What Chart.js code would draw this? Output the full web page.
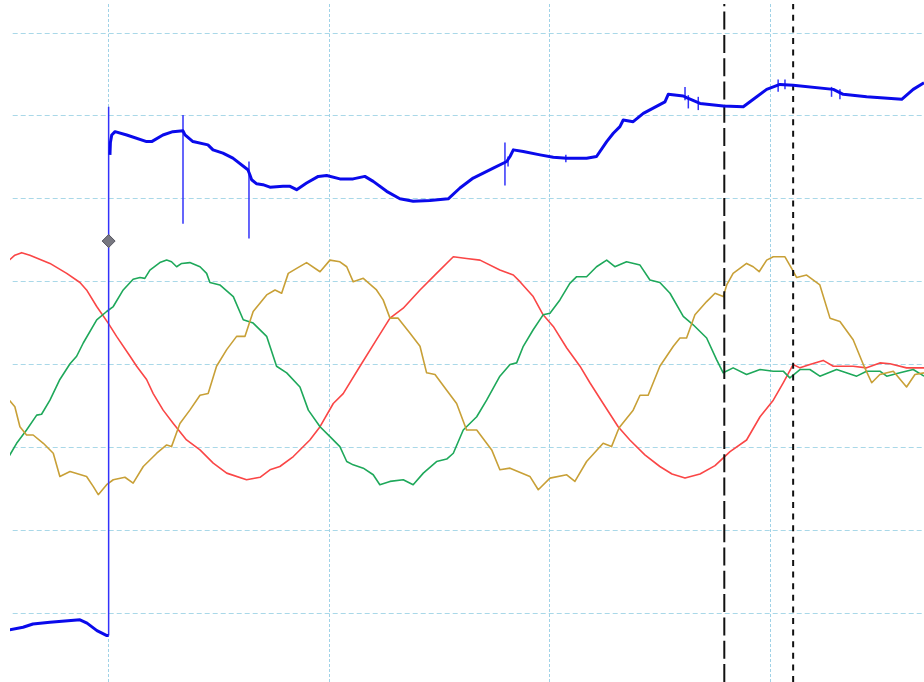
<!DOCTYPE html>
<html>
<head>
<meta charset="utf-8">
<script src="https://cdn.jsdelivr.net/npm/chart.js@4/dist/chart.umd.min.js"></script>
<style>
html,body{margin:0;padding:0;background:#fff;}
#wrap{width:924px;height:682px;position:relative;}
</style>
</head>
<body>
<div id="wrap"><canvas id="c"></canvas></div>
<script>
// time in ms (10 ms / division), amplitude in units of 100 per division
const xTicks = [0, 10, 20, 30];
const yTicks = [-300, -200, -100, 0, 100, 200, 300, 400];
const xMin = -4.47, xMax = 36.95, yMin = -383, yMax = 435;

// blue trace before the step
const bluePre = [[-4.50,-320],[-3.88,-317],[-3.43,-313],[-2.66,-311],[-1.30,-308],[-0.98,-312],[-0.53,-321],[-0.08,-327],[0,-327]];
// blue trace after the step
const bluePost = [[0.06,253],[0.08,268],[0.14,277],[0.29,281],[0.82,277],[1.72,269],[1.95,269],[2.46,277],[2.91,281],[3.37,282],
 [3.46,277],[3.82,269],[4.50,265],[4.73,259],[5.18,255],[5.63,249],[6.31,235],[6.40,229],[6.48,223],[6.71,218],[6.99,217],
 [7.31,214],[7.90,215],[8.22,215],[8.52,211],[8.97,219],[9.50,227],[9.88,228],[10.48,224],[11.08,224],[11.61,227],[11.99,221],
 [12.60,209],[13.20,200],[13.80,197],[14.56,198],[15.39,200],[15.92,213],[16.52,225],[17.43,237],[18.04,245],[18.19,251],
 [18.34,259],[18.79,257],[19.55,253],[20.15,250],[20.76,249],[21.66,249],[22.11,251],[22.57,269],[22.87,279],[23.17,287],
 [23.32,295],[23.77,293],[24.23,303],[25.21,317],[25.36,326],[26.04,324],[26.19,322],[26.80,315],[27.85,312],[28.76,311],
 [29.37,323],[29.82,332],[30.42,338],[31.02,337],[32.84,332],[33.29,326],[34.35,323],[35.94,320],[36.46,332],[36.95,340]];
// glitches on the blue channel: [time, low, high]
const blueSpikes = [[0,-327,311],[3.37,170,301],[6.36,152,245],[17.96,216,268],[18.10,239,251],[20.72,244,253],
 [26.12,319,335],[26.27,309,325],[26.72,307,323],[30.34,329,344],[30.65,332,344],[32.76,323,335],[33.14,320,332]];
const triggerMark = [[0,149]];

const phaseRed = [[-4.50,126],[-4.25,132],[-3.94,135],[-3.57,132],[-2.66,122],[-1.90,110],[-1.30,99],[-1.00,90],[-0.54,70],
 [-0.02,50],[0.36,34],[0.97,10],[1.27,-2],[1.72,-18],[2.02,-35],[2.47,-55],[2.93,-71],[3.53,-91],[4.14,-103],[4.74,-119],
 [5.35,-131],[6.25,-139],[6.86,-136],[7.31,-127],[7.76,-123],[8.37,-111],[9.12,-91],[9.58,-75],[10.18,-47],[10.63,-35],
 [11.39,-2],[12.14,30],[12.75,56],[13.35,68],[14.11,90],[14.86,110],[15.62,130],[16.22,128],[16.83,126],[17.73,114],
 [18.34,108],[18.64,100],[19.24,82],[19.69,60],[20.15,46],[20.76,20],[21.36,-2],[21.81,-22],[22.41,-47],[23.09,-75],
 [23.62,-91],[24.30,-109],[24.98,-123],[25.53,-132],[26.12,-137],[26.80,-132],[27.48,-122],[28.16,-105],[28.91,-91],
 [29.52,-63],[30.12,-43],[30.57,-22],[31.02,0],[31.33,-4],[31.78,0],[32.38,5],[32.84,-2],[33.74,-2],[34.35,-4],
 [34.95,2],[35.41,1],[36.16,-4],[36.95,-4]];
const phaseGreen = [[-4.50,-110],[-4.17,-95],[-3.72,-79],[-3.26,-61],[-3.04,-60],[-2.66,-43],[-2.21,-18],[-1.75,1],[-1.45,10],
 [-1.15,26],[-0.54,54],[-0.09,64],[0.21,70],[0.66,90],[1.11,103],[1.42,105],[1.64,104],[1.87,114],[2.32,123],[2.63,126],
 [2.85,124],[3.08,118],[3.31,122],[3.68,123],[4.14,118],[4.44,110],[4.59,99],[5.04,96],[5.65,82],[6.10,54],[6.55,50],
 [7.16,34],[7.61,-2],[8.07,-10],[8.67,-27],[9.05,-55],[9.58,-75],[10.03,-87],[10.48,-99],[10.79,-117],[11.08,-121],
 [11.54,-125],[11.99,-133],[12.29,-145],[12.75,-141],[13.35,-139],[13.80,-145],[14.26,-131],[14.86,-117],[15.32,-114],
 [15.62,-107],[16.07,-79],[16.68,-63],[17.13,-43],[17.73,-14],[18.19,0],[18.49,2],[18.79,22],[19.24,42],[19.69,60],
 [20.00,62],[20.45,78],[20.90,98],[21.21,106],[21.66,106],[22.11,118],[22.57,126],[22.94,118],[23.47,124],[24.08,120],
 [24.53,102],[24.98,99],[25.44,86],[26.04,58],[26.49,48],[27.10,32],[27.55,6],[27.85,-10],[28.30,-4],[28.91,-12],
 [29.52,-6],[30.12,-8],[30.57,-8],[30.87,-16],[31.33,-6],[31.78,-6],[32.23,-14],[32.99,-6],[33.90,-14],[34.35,-8],
 [34.95,-8],[35.26,-14],[35.86,-10],[36.46,-6],[36.95,-14]];
const phaseGold = [[-4.50,-43],[-4.25,-51],[-4.02,-75],[-3.72,-85],[-3.42,-85],[-2.96,-95],[-2.51,-107],[-2.21,-135],
 [-1.75,-129],[-1.00,-135],[-0.70,-147],[-0.47,-157],[-0.09,-145],[0.21,-139],[0.74,-136],[1.11,-143],[1.57,-123],
 [2.18,-107],[2.63,-97],[2.85,-99],[3.23,-71],[3.68,-55],[4.14,-37],[4.51,-35],[4.89,-2],[5.35,18],[5.80,34],[6.18,34],
 [6.55,64],[7.16,84],[7.54,90],[7.84,86],[8.14,110],[8.52,116],[8.97,123],[9.58,112],[10.03,126],[10.48,124],[10.79,118],
 [11.08,100],[11.54,104],[12.14,90],[12.44,78],[12.75,56],[13.12,56],[13.65,38],[14.11,22],[14.41,-10],[14.79,-12],
 [15.32,-31],[15.77,-47],[16.22,-79],[16.68,-79],[17.36,-103],[17.73,-127],[18.19,-125],[19.09,-135],[19.47,-151],
 [20.00,-137],[20.76,-133],[21.13,-141],[21.66,-117],[22.41,-95],[22.79,-99],[23.09,-79],[23.17,-75],[23.77,-55],
 [24.08,-37],[24.45,-37],[24.98,-2],[25.59,22],[25.89,32],[26.19,32],[26.57,60],[27.10,76],[27.48,86],[27.85,82],
 [28.01,96],[28.30,110],[28.91,122],[29.21,118],[29.48,112],[29.82,126],[30.12,130],[30.65,130],[30.95,116],[31.18,105],
 [31.63,108],[32.23,96],[32.69,56],[33.14,52],[33.74,30],[34.20,0],[34.58,-22],[34.95,-12],[35.56,-8],[36.16,-27],
 [36.54,-12],[36.95,-10]];
const cursorA = 27.90;
const cursorB = 31.02;

const pts = a => a.map(p => ({x: p[0], y: p[1]}));
const line = (data, color, width, extra) => Object.assign({
  data: pts(data), borderColor: color, backgroundColor: color, borderWidth: width,
  pointRadius: 0, tension: 0, fill: false, borderJoinStyle: 'round', spanGaps: false
}, extra || {});

const datasets = [];
datasets.push(line(triggerMark, '#5a5a66', 0, {pointRadius: 6.5, pointStyle: 'rectRot', pointBackgroundColor: '#777780', pointBorderColor: '#55555f', pointBorderWidth: 1, showLine: false}));
datasets.push(line(bluePost, 'rgb(10,10,235)', 3));
datasets.push(line(bluePre, 'rgb(10,10,235)', 3));
blueSpikes.forEach(s => datasets.push(line([[s[0], s[1]], [s[0], s[2]]], 'rgb(50,50,250)', 1.5)));
datasets.push(line([[cursorA, yMin], [cursorA, yMax]], '#111', 2, {borderDash: [18, 5.3]}));
datasets.push(line([[cursorB, yMin], [cursorB, yMax]], '#111', 2, {borderDash: [6, 5.6]}));
datasets.push(line(phaseGold, 'rgb(200,160,55)', 1.6));
datasets.push(line(phaseGreen, 'rgb(30,168,90)', 1.6));
datasets.push(line(phaseRed, 'rgb(250,70,70)', 1.6));

new Chart(document.getElementById('c'), {
  type: 'line',
  data: {datasets},
  options: {
    responsive: true, maintainAspectRatio: false, animation: false,
    events: [],
    layout: {autoPadding: false, padding: {top: 4, left: 10, right: 0, bottom: 0}},
    plugins: {legend: {display: false}, tooltip: {enabled: false}, title: {display: false}},
    scales: {
      x: {
        type: 'linear', min: xMin, max: xMax,
        afterBuildTicks: s => { s.ticks = xTicks.map(v => ({value: v})); },
        ticks: {display: false},
        grid: {drawTicks: false, color: 'rgba(150,205,228,0.9)', lineWidth: 1},
        border: {display: false, dash: [3, 2]}
      },
      y: {
        type: 'linear', min: yMin, max: yMax,
        afterBuildTicks: s => { s.ticks = yTicks.map(v => ({value: v})); },
        ticks: {display: false},
        grid: {drawTicks: false, color: 'rgba(160,212,230,0.9)', lineWidth: 1},
        border: {display: false, dash: [5, 3], dashOffset: 5.3}
      }
    }
  }
});
</script>
</body>
</html>
